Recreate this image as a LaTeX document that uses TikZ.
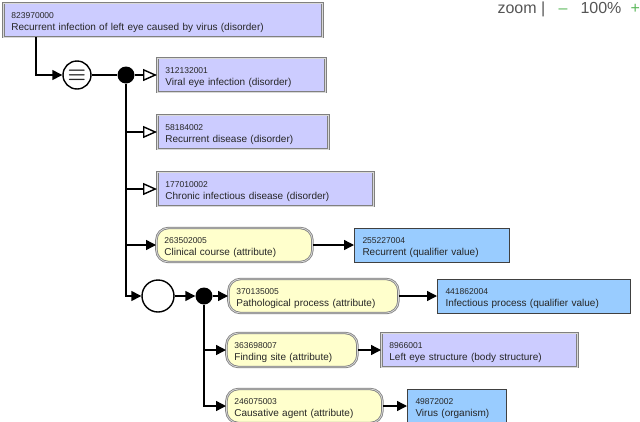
\documentclass[tikz,border=0pt]{standalone}
\usepackage{fontspec}
\setmainfont{Liberation Sans}
\usetikzlibrary{arrows.meta}
\definecolor{cptfill}{RGB}{204,204,255}
\definecolor{valfill}{RGB}{153,204,255}
\definecolor{attfill}{RGB}{255,255,204}
\definecolor{zoomgreen}{RGB}{92,184,92}
\definecolor{zoomgray}{RGB}{85,85,85}
\newcommand{\idlabel}[2]{\rule{0pt}{10.1pt}{\fontsize{8.5}{9}\selectfont #1}\\#2}
\begin{document}
\begin{tikzpicture}[x=1pt,y=-1pt,
  every node/.style={font=\fontsize{10}{12}\selectfont, text=black!85},
  cptbox/.style={draw=gray, line width=0.8pt, double=gray!30, double distance=0.8pt,
    fill=cptfill, anchor=west, align=left, inner xsep=8pt, inner ysep=2pt, minimum height=34pt, text width=#1pt},
  valbox/.style={draw=black!75, line width=1pt, fill=valfill, anchor=west, align=left,
    inner xsep=8pt, inner ysep=2pt, minimum height=34pt, text width=#1pt},
  attbox/.style={cptbox=#1, fill=attfill, rounded corners=12pt},
  grpnode/.style={circle, draw, line width=1.4pt, fill=white, inner sep=0pt},
  joint/.style={circle, fill=black, minimum size=17pt, inner sep=0pt},
  conn/.style={line width=1.4pt},
  fillarr/.style={conn, -{Triangle[length=10pt,width=10pt]}},
  openarr/.style={conn, -{Triangle[open,length=14pt,width=12pt]}}
]
\useasboundingbox (0,0) rectangle (640,421);

% zoom bar
\node [anchor=base west, font=\fontsize{16}{18}\selectfont, text=zoomgray] (zoomlbl) at (494,13) {zoom |};
\node [anchor=base west, font=\fontsize{16}{18}\selectfont, text=zoomgreen] (zoomout) at (555,13) {--};
\node [anchor=base west, font=\fontsize{16}{18}\selectfont, text=zoomgray] (zoompct) at (577,13) {100\%};
\node [anchor=base west, font=\fontsize{16}{18}\selectfont, text=zoomgreen] (zoomin) at (627,13) {+};

% concepts
\node [cptbox=303] (top) at (3,20) {\idlabel{823970000}{Recurrent infection of left eye caused by virus (disorder)}};
\node [grpnode, minimum size=28pt, font=\fontsize{20}{20}\selectfont\boldmath] (eq) at (77,75) {$\equiv$};
\node [joint] (d1) at (126,75) {};
\node [cptbox=152] (b2) at (157,75) {\idlabel{312132001}{Viral eye infection (disorder)}};
\node [cptbox=155] (b3) at (157,132) {\idlabel{58184002}{Recurrent disease (disorder)}};
\node [cptbox=200] (b4) at (157,189) {\idlabel{177010002}{Chronic infectious disease (disorder)}};
\node [attbox=140] (cc) at (156,245) {\idlabel{263502005}{Clinical course (attribute)}};
\node [valbox=139] (rec) at (354,245) {\idlabel{255227004}{Recurrent (qualifier value)}};

% role group
\node [grpnode, minimum size=32pt] (c2) at (158,296) {};
\node [joint] (d2) at (204,296) {};
\node [attbox=154] (pp) at (228,296) {\idlabel{370135005}{Pathological process (attribute)}};
\node [valbox=177] (inf) at (437,296) {\idlabel{441862004}{Infectious process (qualifier value)}};
\node [attbox=115] (fs) at (226,350) {\idlabel{363698007}{Finding site (attribute)}};
\node [cptbox=180] (les) at (381,350) {\idlabel{8966001}{Left eye structure (body structure)}};
\node [attbox=140] (cag) at (226,406) {\idlabel{246075003}{Causative agent (attribute)}};
\node [valbox=83] (vir) at (407,406) {\idlabel{49872002}{Virus (organism)}};

\draw [fillarr] (top.south west) ++(33,0) |- (eq);
\draw [conn] (eq) -- (d1);
\draw [openarr] (d1) -- (b2);
\draw [fillarr] (d1) |- (c2);
\draw [openarr] (d1 |- b3) -- (b3);
\draw [openarr] (d1 |- b4) -- (b4);
\draw [fillarr] (d1 |- cc) -- (cc);
\draw [fillarr] (cc) -- (rec);

\draw [fillarr] (c2) -- (d2);
\draw [fillarr] (d2) -- (pp);
\draw [fillarr] (pp) -- (inf);
\draw [fillarr] (d2) |- (cag);
\draw [fillarr] (d2 |- fs) -- (fs);
\draw [fillarr] (fs) -- (les);
\draw [fillarr] (cag) -- (vir);
\end{tikzpicture}
\end{document}
